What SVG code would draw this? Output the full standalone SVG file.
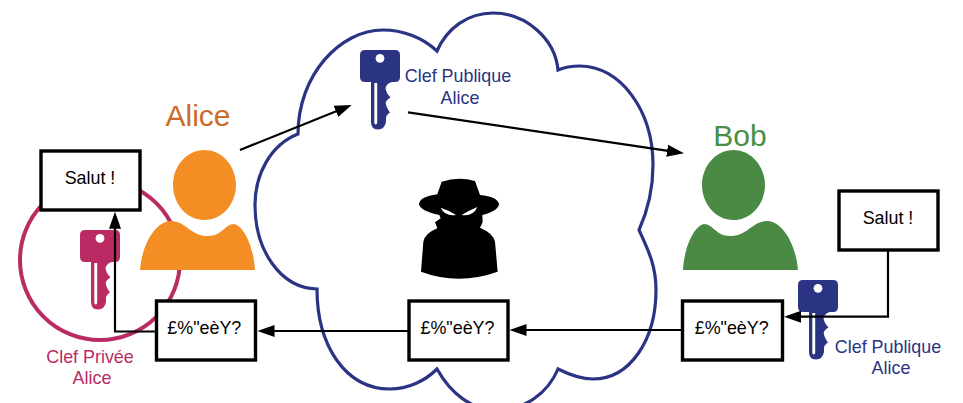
<svg xmlns="http://www.w3.org/2000/svg" xmlns:xlink="http://www.w3.org/1999/xlink" width="963" height="403" viewBox="0 0 963 403">
<style>
text{font-family:"Liberation Sans",Arial,sans-serif;font-size:17.9px;text-anchor:middle}
.box{fill:#fff;stroke:#000;stroke-width:3.4}
.conn{fill:none;stroke:#000;stroke-width:2.2;marker-end:url(#arrow)}
.navy{fill:#2b3383}
.pink{fill:#b92b62}
.name{font-size:30px}
</style>
<defs>
<marker id="arrow" markerUnits="userSpaceOnUse" markerWidth="18" markerHeight="14" refX="13" refY="6.5" orient="auto">
<path d="M0,0.5 L17,6.5 L0,12.5 Z" fill="#000"/>
</marker>
<path id="person" d="M140,270 C142,245 155,222 170,221 C185,220 190,236 208,236 C222,236 225,224 234,224 C245,226 254,250 255,270 Z M204.5,150 C222,150 236,166 236,185 C236,204 222,220 204.5,220 C187,220 173,204 173,185 C173,166 187,150 204.5,150 Z"/>
<g id="key">
<path d="M5,0 H35 Q40,0 40,5 V27 Q40,32 35,32 H32 Q27,33 25.5,38 Q26,43 30.5,47.5 Q26,50 25.7,53 Q26,57 30,62.5 Q26,65 26,68 V72 Q24.5,79.5 18,79.5 Q11,79.5 11,72 V32 H5 Q0,32 0,27 V5 Q0,0 5,0 Z"/>
<circle cx="20" cy="8.3" r="4.4" fill="#fff"/>
<path d="M14.3,33 H17.2 V73 Q15.8,76 14.3,73 Z" fill="#fff"/>
</g>
</defs>
<g id="eve-cloud">
<path d="M298,134 C270,145 255,175 255,205 C255,250 280,288 317,289 C317,345 345,389 390,389 C408,389 425,381 437,369 C450,392 470,410 497,410 C525,410 548,393 558,369 C570,375 580,379 593,379 C630,379 656,340 656,290 C656,265 648,250 639,230 C648,210 653,190 653,165 C653,110 620,66 580,66 C572,66 565,67 558,70 C555,38 525,13 493,13 C468,13 447,28 437,51 C422,37 402,30 383,30 C340,30 298,75 298,134 Z" fill="#fff" stroke="#2b3383" stroke-width="3.2"/>
</g>
<g id="private-key">
<circle cx="100" cy="260" r="80" fill="none" stroke="#b92b62" stroke-width="4"/>
<use href="#key" x="80" y="230" class="pink"/>
<text x="90" y="362.7" fill="#b92b62">Clef Privée</text>
<text x="92" y="384" fill="#b92b62">Alice</text>
</g>
<g id="alice">
<use href="#person" fill="#f28e24"/>
<text x="198" y="126" class="name" fill="#cc6a27">Alice</text>
</g>
<g id="bob">
<use href="#person" fill="#4a8a45" transform="translate(938 0) scale(-1 1)"/>
<text x="740" y="146" class="name" fill="#4a8f46">Bob</text>
</g>
<g id="public-key-cloud">
<use href="#key" x="360" y="50" class="navy"/>
<text x="458" y="82.3" fill="#2b3383">Clef Publique</text>
<text x="460" y="104" fill="#2b3383">Alice</text>
</g>
<g id="public-key-bob">
<use href="#key" x="798" y="280" class="navy"/>
<text x="888" y="353" fill="#2b3383">Clef Publique</text>
<text x="891" y="374" fill="#2b3383">Alice</text>
</g>
<g id="spy" transform="translate(400 165) scale(.33333)">
<path d="M125,50 Q175,34 225,48 L240,90 Q292,95 297,117 Q295,138 247,150 L248,172 L240,188 Q280,205 285,230 L293,320 Q175,362 63,320 L70,230 Q75,205 112,190 L105,172 L122,160 L118,150 Q60,138 57,117 Q60,95 112,88 Z" fill="#000"/>
<path d="M122,128 Q145,135 168,150 Q135,155 122,128 Z M232,126 Q210,135 185,150 Q220,155 232,126 Z" fill="#fff"/>
</g>
<g id="connectors">
<path class="conn" d="M240,150 L348,106.5"/>
<path class="conn" d="M408,112.3 L680,152.7"/>
<path class="conn" d="M888,250 V316.7 H788"/>
<path class="conn" d="M682,330 H513.5"/>
<path class="conn" d="M408,331 H261.5"/>
<path class="conn" d="M155,331.5 H115 V215.7"/>
</g>
<g id="box-salut-alice">
<rect class="box" x="41" y="151" width="99" height="59"/>
<text x="90" y="184">Salut !</text>
</g>
<g id="box-cipher-alice">
<rect class="box" x="156.5" y="301" width="99" height="59"/>
<text x="204.3" y="334.3">£%"eèY?</text>
</g>
<g id="box-cipher-cloud">
<rect class="box" x="409" y="301" width="99" height="59"/>
<text x="457.5" y="334">£%"eèY?</text>
</g>
<g id="box-cipher-bob">
<rect class="box" x="682.5" y="301" width="100" height="59"/>
<text x="731.7" y="334">£%"eèY?</text>
</g>
<g id="box-salut-bob">
<rect class="box" x="839" y="191" width="99" height="59"/>
<text x="888" y="224">Salut !</text>
</g>
</svg>
